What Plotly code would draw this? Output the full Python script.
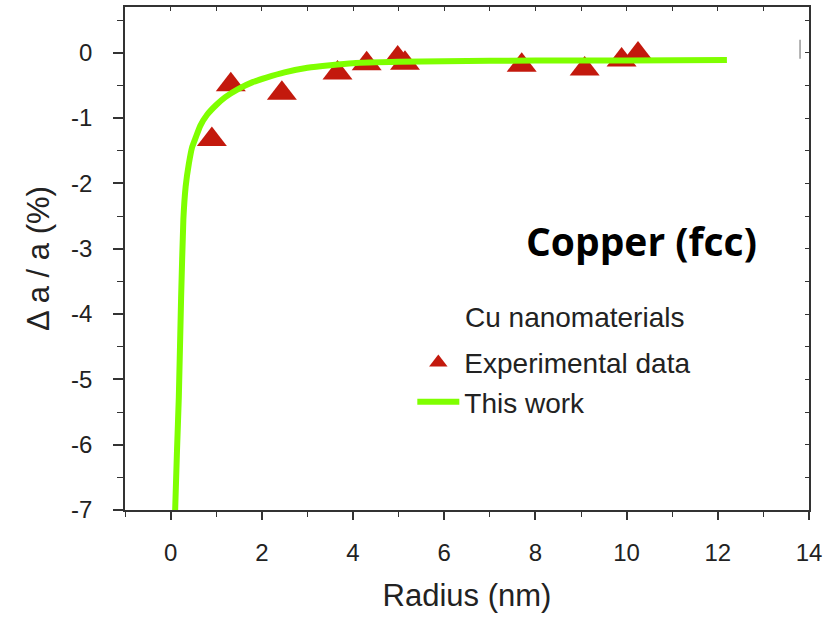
import plotly.graph_objects as go

# Experimental data (triangles)
exp_radius = [0.905, 1.32, 2.44, 3.66, 4.30, 4.98, 5.14, 7.70, 9.08, 9.89, 10.25]
exp_delta = [-1.33, -0.49, -0.62, -0.31, -0.17, -0.08, -0.16, -0.19, -0.25, -0.11, -0.02]

# Model curve ("This work")
model_radius = [0.10, 0.14, 0.18, 0.23, 0.28, 0.33, 0.40, 0.47, 0.55, 0.65, 0.80, 1.0, 1.2,
                1.5, 1.8, 2.1, 2.5, 3.0, 3.5, 4.0, 5.0, 6.0, 8.0, 10.0, 12.2]
model_delta = [-7.0, -6.1, -5.28, -3.76, -2.55, -2.05, -1.70, -1.45, -1.30, -1.12, -0.95, -0.80, -0.68,
               -0.55, -0.45, -0.38, -0.30, -0.23, -0.19, -0.16, -0.14, -0.13, -0.12, -0.12, -0.11]

x_ticks = [0, 2, 4, 6, 8, 10, 12, 14]
x_ticktext = ["0", "2", "4", "6", "8", "10", "12", "14"]
y_ticks = [-7, -6, -5, -4, -3, -2, -1, 0]
y_ticktext = ["-7", "-6", "-5", "-4", "-3", "-2", "-1", "0"]

FONT = "Liberation Sans, Arial, sans-serif"
AX = "#333333"

fig = go.Figure()
fig.add_trace(go.Scatter(
    x=exp_radius, y=exp_delta, mode="markers", name="Experimental data",
    marker=dict(symbol="triangle-up", size=26, color="#C3190D", line=dict(width=0)),
    legendgroup="a",
))
fig.add_trace(go.Scatter(
    x=model_radius, y=model_delta, mode="lines", name="This work",
    line=dict(color="#7FFF00", width=6, shape="spline", smoothing=0.4),
    legendgroup="b",
))
# empty helper trace so the mirrored top/right tick axes are drawn
fig.add_trace(go.Scatter(x=[None], y=[None], xaxis="x2", yaxis="y2", mode="markers",
                         showlegend=False, hoverinfo="skip"))

fig.update_layout(
    width=827, height=618,
    margin=dict(l=125, r=14, t=5, b=108),
    paper_bgcolor="white", plot_bgcolor="white",
    font=dict(family=FONT, size=24, color="#222222"),
    showlegend=True,
    legend=dict(x=(414 - 125) / 688, y=(510 - 337) / 505, xanchor="left", yanchor="top",
                bgcolor="rgba(0,0,0,0)", font=dict(size=28, color="#222222"),
                itemwidth=42, tracegroupgap=0),
    xaxis=dict(range=[-1, 14], tickvals=x_ticks, ticktext=x_ticktext, ticks="outside", ticklen=8,
               tickwidth=1.5, tickcolor=AX, showline=True, linecolor=AX, linewidth=1.5, mirror=True,
               showgrid=False, zeroline=False, ticklabelstandoff=12,
               minor=dict(dtick=1, tick0=0, ticks="outside", ticklen=5, tickcolor=AX, tickwidth=1.2),
               title=dict(text="Radius (nm)", font=dict(size=31), standoff=20)),
    yaxis=dict(range=[-7, 0.70], tickvals=y_ticks, ticktext=y_ticktext, ticks="outside", ticklen=10,
               tickwidth=1.5, tickcolor=AX, showline=True, linecolor=AX, linewidth=1.5, mirror=True,
               showgrid=False, zeroline=False, ticklabelstandoff=16,
               minor=dict(dtick=0.5, tick0=0, ticks="outside", ticklen=6, tickcolor=AX, tickwidth=1.2),
               title=dict(text="Δ a / a (%)", font=dict(size=31), standoff=12)),
    xaxis2=dict(overlaying="x", side="top", anchor="y2", range=[-1, 14], showticklabels=False,
                ticks="inside", ticklen=4, tickcolor=AX, tickwidth=1, dtick=1, tick0=0,
                showgrid=False, zeroline=False, showline=False),
    yaxis2=dict(overlaying="y", side="right", anchor="x2", range=[-7, 0.70], showticklabels=False,
                ticks="inside", ticklen=4, tickcolor=AX, tickwidth=1, dtick=0.5, tick0=0,
                showgrid=False, zeroline=False, showline=False),
)

fig.add_annotation(text="Cu nanomaterials", xref="paper", yref="paper",
                   x=(465 - 125) / 688, y=(510 - 317) / 505, xanchor="left", yanchor="middle",
                   showarrow=False, font=dict(size=28, color="#222222"))
fig.add_annotation(text="<b>Copper (fcc)</b>", xref="paper", yref="paper",
                   x=(645 - 125) / 688, y=(510 - 239) / 505, xanchor="center", yanchor="middle",
                   showarrow=False, font=dict(family="Open Sans, sans-serif", size=39, color="black"))
fig.add_shape(type="line", xref="paper", yref="paper",
              x0=(804 - 125) / 688, x1=(804 - 125) / 688, y0=(510 - 57) / 505, y1=(510 - 38) / 505,
              line=dict(color="#999999", width=1.5))

fig.write_html("out.html")
